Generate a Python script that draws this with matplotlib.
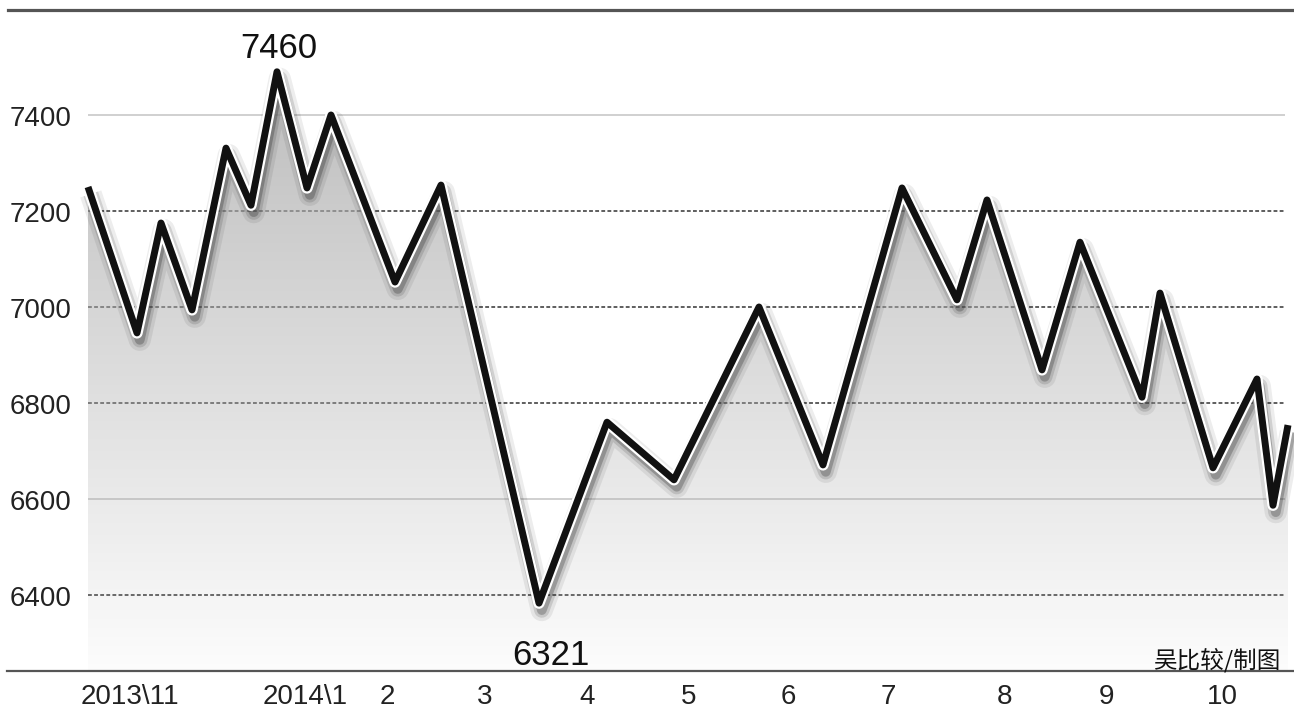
import matplotlib
matplotlib.use("Agg")
import matplotlib.pyplot as plt
import numpy as np
from matplotlib import patheffects as pe
from matplotlib.patches import Polygon

# ---- data ----
# position along the time axis (same units as tick positions)
t = [88, 137, 161, 192, 226, 251, 277, 307, 331, 395, 441, 539, 607, 674,
     759, 823, 902, 957, 987, 1042, 1080, 1142, 1160, 1213, 1257, 1273, 1288]
v = [7250, 6946, 7175, 6994, 7331, 7212, 7490, 7248, 7400, 7052, 7254, 6383,
     6760, 6640, 7000, 6671, 7248, 7015, 7223, 6869, 7135, 6812, 7029, 6665,
     6850, 6587, 6754]

tick_pos = [130, 305, 387, 485, 587, 689, 788, 888, 1005, 1107, 1222]
tick_labels = ['2013\\11', '2014\\1', '2', '3', '4', '5', '6', '7', '8', '9', '10']
ytick_vals = [7400, 7200, 7000, 6800, 6600, 6400]
ytick_dashed = [False, True, True, True, False, True]
peak_label = '7460'
trough_label = '6321'
credit = '吴比较/制图'

# ---- layout ----
W, H = 1294, 712
fig = plt.figure(figsize=(W / 100, H / 100), dpi=100)
ax = fig.add_axes([0, 0, 1, 1])
ax.axis('off')
upp = 200 / 96.0            # value units per pixel
ymax = 7400 + 115 * upp
ymin = 7400 - (H - 115) * upp
ax.set_xlim(0, W)
ax.set_ylim(ymin, ymax)
y_top_line = 7400 - (10 - 115) * upp
y_base = 7400 - (671 - 115) * upp

narrow = ['Liberation Sans Narrow', 'Liberation Sans', 'DejaVu Sans']
regular = ['Liberation Sans', 'DejaVu Sans']

# frame lines
ax.axhline(y_top_line, xmin=8 / W, xmax=1, color='#555555', lw=2.3, zorder=5)
ax.axhline(y_base, xmin=7 / W, xmax=1, color='#555555', lw=1.6, zorder=5)

# grid lines
for val, dashed in zip(ytick_vals, ytick_dashed):
    if dashed:
        ax.hlines(val, t[0], 1285, color='#333333', lw=1.1,
                  linestyles=(0, (2.5, 1.5)), zorder=1)
    else:
        ax.hlines(val, t[0], 1285, color='#d0d0d0', lw=1.4, zorder=1)
    ax.annotate(f'{val}', xy=(10, val), xytext=(0, -7.8), textcoords='offset points',
                ha='left', va='baseline', fontsize=20, family=narrow,
                color='#222222')

# gradient fill under the curve
vv = np.linspace(y_base, ymax, 400)
tone = 0.99 - 0.25 * (vv - 6242) / (7490 - 6242)
tone = np.clip(tone, 0.73, 1.0)
c = 0.68
alpha = np.clip((1 - tone) / (1 - c), 0, 1)
img = np.zeros((len(vv), 2, 4))
img[..., 0] = c
img[..., 1] = c
img[..., 2] = c
img[..., 3] = alpha[:, None]
poly_xy = np.column_stack([[t[0]] + t + [t[-1]], [y_base] + v + [y_base]])
clip = Polygon(poly_xy, closed=True, facecolor='none', edgecolor='none',
               transform=ax.transData)
ax.add_patch(clip)
im = ax.imshow(img, extent=[t[0], t[-1], y_base, ymax], origin='lower',
               aspect='auto', zorder=2, interpolation='bilinear')
im.set_clip_path(clip)

# the line with halo and shadow
effects = [
    pe.SimpleLineShadow(offset=(2.0, -5), shadow_color='#000000', alpha=0.07, linewidth=16),
    pe.SimpleLineShadow(offset=(2.0, -5), shadow_color='#000000', alpha=0.12, linewidth=11),
    pe.SimpleLineShadow(offset=(2.0, -5), shadow_color='#000000', alpha=0.22, linewidth=7),
    pe.Stroke(linewidth=8.2, foreground='white', joinstyle='round'),
    pe.Normal(),
]
ax.plot(t, v, color='#111111', lw=5.0, solid_joinstyle='round',
        solid_capstyle='butt', zorder=4, path_effects=effects)

# peak / trough labels
imax = int(np.argmax(v))
imin = int(np.argmin(v))
ax.annotate(peak_label, xy=(t[imax], v[imax]), xytext=(1.5, 10), textcoords='offset points',
            ha='center', va='baseline', fontsize=25, family=regular, color='#111111',
            zorder=6)
ax.annotate(trough_label, xy=(t[imin], v[imin]), xytext=(8.5, -44.5), textcoords='offset points',
            ha='center', va='baseline', fontsize=25, family=regular, color='#111111',
            zorder=6)

# x labels
for pos, lab in zip(tick_pos, tick_labels):
    ax.text(pos, 7400 - (704 - 115) * upp, lab, ha='center', va='baseline',
            fontsize=20, family=narrow, color='#222222')

# credit
fig.text(1280 / W, 1 - 668 / H, credit, ha='right', va='baseline', fontsize=17,
         family=['Noto Sans CJK SC', 'DejaVu Sans'], color='#111111')

fig.savefig('out.png', dpi=100, facecolor='white')
